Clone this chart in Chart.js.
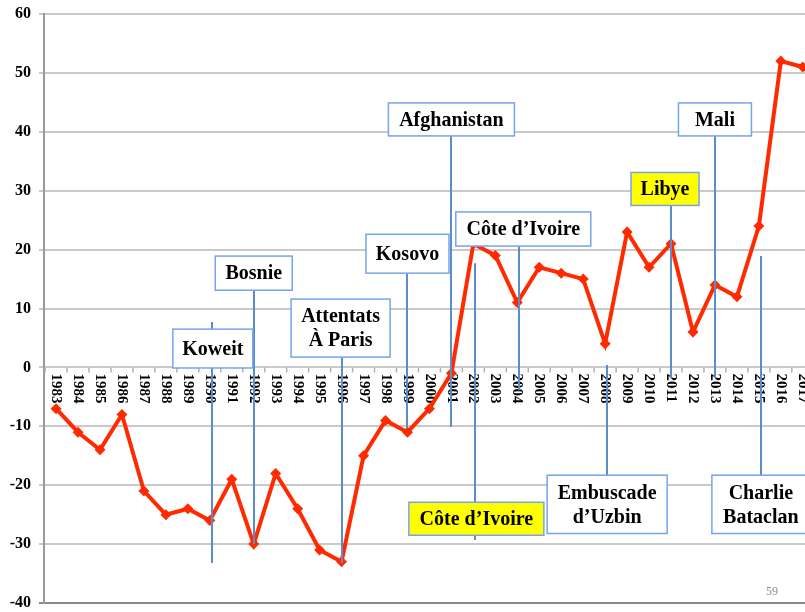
<!DOCTYPE html>
<html>
<head>
<meta charset="utf-8">
<script src="https://cdn.jsdelivr.net/npm/chart.js@4"></script>
<style>
html,body{margin:0;padding:0;background:#fff;overflow:hidden}
#wrap{width:805px;height:612px;position:relative}
</style>
</head>
<body>
<div id="wrap"><canvas id="c" width="805" height="612"></canvas></div>
<script>
// ---- data ----
const years = [1983,1984,1985,1986,1987,1988,1989,1990,1991,1992,1993,1994,1995,1996,1997,1998,1999,2000,2001,2002,2003,2004,2005,2006,2007,2008,2009,2010,2011,2012,2013,2014,2015,2016,2017];
const values = [-7,-11,-14,-8,-21,-25,-24,-26,-19,-30,-18,-24,-31,-33,-15,-9,-11,-7,-1,21,19,11,17,16,15,4,23,17,21,6,14,12,24,52,51];
const yTicks = [60,50,40,30,20,10,0,-10,-20,-30,-40];
const eventLabels = [["Koweit"],["Bosnie"],["Attentats","À Paris"],["Kosovo"],["Afghanistan"],["Côte d’Ivoire"],["Côte d’Ivoire"],["Embuscade","d’Uzbin"],["Libye"],["Mali"],["Charlie","Bataclan"]];
const eventYears = [1990,1992,1996,1999,2001,2004,2002,2008,2011,2013,2015];
const eventHighlight = [false,false,false,false,false,false,true,false,true,false,false];
const slideNumber = "59";

// ---- annotation layout (value units for vertical extents, px for widths/offsets) ----
const eventLayout = [
  {dx:3,  w:80,  top:6.5,  bottom:-0.1,  from:7.7,   to:-33.2},
  {dx:0,  w:77,  top:18.9, bottom:13.1,  from:13.1,  to:-30},
  {dx:-1, w:99,  top:11.6, bottom:1.75,  from:1.75,  to:-33.2},
  {dx:0,  w:83,  top:22.6, bottom:16.0,  from:16.0,  to:-10.3},
  {dx:0,  w:126, top:44.9, bottom:39.3,  from:39.3,  to:-10.1},
  {dx:6,  w:135, top:26.4, bottom:20.6,  from:20.6,  to:-3.9},
  {dx:3,  w:135, top:-22.9,bottom:-28.5, from:17.7,  to:-29.3},
  {dx:2,  w:120, top:-18.3,bottom:-28.2, from:-18.3, to:0.4},
  {dx:-6, w:68,  top:33.1, bottom:27.5,  from:27.5,  to:-1.8},
  {dx:0,  w:73,  top:44.9, bottom:39.3,  from:39.3,  to:-1.8},
  {dx:2,  w:98,  top:-18.3,bottom:-28.2, from:-18.3, to:18.9}
];

const SERIF = '"Liberation Serif","Times New Roman",serif';

const yearLabelPlugin = {
  id: 'yearLabels',
  beforeDatasetsDraw(chart) {
    const {ctx, scales:{x, y}} = chart;
    const y0 = y.getPixelForValue(0);
    ctx.save();
    ctx.strokeStyle = '#b0b0b0';
    ctx.lineWidth = 1.5;
    for (let i = 0; i <= years.length; i++) {
      const px = x.getPixelForValue(years[0] - 0.5 + i);
      ctx.beginPath();
      ctx.moveTo(px, y0);
      ctx.lineTo(px, y0 + 5);
      ctx.stroke();
    }
    ctx.fillStyle = '#000';
    ctx.font = 'bold 15px ' + SERIF;
    ctx.textAlign = 'left';
    ctx.textBaseline = 'middle';
    years.forEach(yr => {
      const px = x.getPixelForValue(yr);
      ctx.save();
      ctx.translate(px, y0 + 6);
      ctx.rotate(Math.PI / 2);
      ctx.fillText(String(yr), 0, 0);
      ctx.restore();
    });
    ctx.restore();
  }
};

const eventPlugin = {
  id: 'events',
  afterDatasetsDraw(chart) {
    const {ctx, scales:{x, y}} = chart;
    ctx.save();
    ctx.strokeStyle = '#5b8dcb';
    ctx.lineWidth = 2;
    eventYears.forEach((yr, i) => {
      const L = eventLayout[i];
      const px = Math.round(x.getPixelForValue(yr) + (L.dx > 1 ? 2 : 0));
      ctx.beginPath();
      ctx.moveTo(px, y.getPixelForValue(L.from));
      ctx.lineTo(px, y.getPixelForValue(L.to));
      ctx.stroke();
    });
    ctx.font = 'bold 20px ' + SERIF;
    ctx.textAlign = 'center';
    ctx.textBaseline = 'middle';
    eventYears.forEach((yr, i) => {
      const L = eventLayout[i];
      const cx = x.getPixelForValue(yr) + L.dx;
      const top = y.getPixelForValue(L.top);
      const bot = y.getPixelForValue(L.bottom);
      const left = cx - L.w / 2;
      ctx.fillStyle = eventHighlight[i] ? '#ffff00' : '#ffffff';
      ctx.fillRect(left, top, L.w, bot - top);
      ctx.strokeStyle = '#77a3ec';
      ctx.lineWidth = 1.5;
      ctx.strokeRect(left, top, L.w, bot - top);
      ctx.fillStyle = '#000';
      const lines = eventLabels[i];
      const lh = 24;
      const mid = (top + bot) / 2 + 1;
      lines.forEach((t, k) => {
        ctx.fillText(t, cx, mid + (k - (lines.length - 1) / 2) * lh);
      });
    });
    ctx.fillStyle = '#8c8c8c';
    ctx.font = '12px ' + SERIF;
    ctx.fillText(slideNumber, 772, 592);
    ctx.restore();
  }
};

new Chart(document.getElementById('c'), {
  type: 'line',
  data: {
    datasets: [{
      data: years.map((yr, i) => ({x: yr, y: values[i]})),
      borderColor: '#ff2a00',
      backgroundColor: '#ff2a00',
      borderWidth: 4,
      pointStyle: 'rectRot',
      pointRadius: 5.5,
      pointBorderWidth: 0,
      pointBackgroundColor: '#ff2a00',
      tension: 0,
      fill: false,
      clip: false
    }]
  },
  options: {
    responsive: false,
    animation: false,
    devicePixelRatio: 1,
    layout: {autoPadding: false, padding: {top: 14, bottom: 9, left: 0, right: 0}},
    plugins: {legend: {display: false}, tooltip: {enabled: false}},
    scales: {
      x: {type: 'linear', min: 1982.45, max: 2017.1, display: false},
      y: {
        min: -40, max: 60,
        afterFit(s) { s.width = 44; s.paddingTop = 0; s.paddingBottom = 0; },
        afterBuildTicks(s) { s.ticks = yTicks.map(v => ({value: v})); },
        ticks: {
          color: '#000',
          padding: 8,
          font: {family: SERIF, weight: 'bold', size: 16}
        },
        grid: {
          color: c => (c.tick && c.tick.value === -40) ? '#8a8a8a' : '#c9c9c9',
          lineWidth: 2,
          tickLength: 5
        },
        border: {color: '#9a9a9a', width: 2}
      }
    }
  },
  plugins: [yearLabelPlugin, eventPlugin]
});
</script>
</body>
</html>
